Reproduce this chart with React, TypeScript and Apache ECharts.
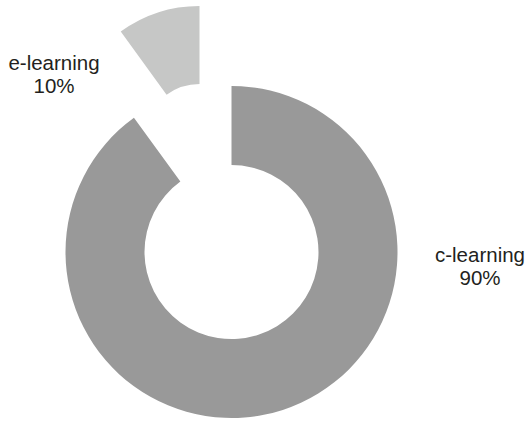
import React, { useEffect, useRef } from "react";
import * as echarts from "echarts";

const categories = ["c-learning", "e-learning"];
const values = [90, 10];
const colors = ["#999999", "#c6c7c6"];

export default function App() {
  const ref = useRef<HTMLDivElement>(null);
  useEffect(() => {
    if (!ref.current) return;
    const chart = echarts.init(ref.current, undefined, { renderer: "svg" });
    const labelStyle = {
      formatter: "{b}\n{d}%",
      fontFamily: "'Liberation Sans', Arial, sans-serif",
      fontSize: 20.5,
      lineHeight: 23,
      color: "#231f20",
      align: "center",
    };
    const makeData = (visibleIdx: number) =>
      categories.map((c, i) => ({
        name: c,
        value: values[i],
        itemStyle: { color: i === visibleIdx ? colors[i] : "rgba(0,0,0,0)", borderWidth: 0 },
        label: { show: i === visibleIdx },
      }));
    chart.setOption({
      animation: false,
      series: [
        {
          type: "pie",
          center: [231.5, 252],
          radius: [87, 166],
          startAngle: 90,
          clockwise: true,
          silent: true,
          avoidLabelOverlap: false,
          label: labelStyle,
          labelLine: { show: false },
          labelLayout: { x: 480, y: 265.5, align: "center", verticalAlign: "middle" },
          data: makeData(0),
        },
        {
          type: "pie",
          center: [199.5, 140],
          radius: [56, 134],
          startAngle: 90,
          clockwise: true,
          silent: true,
          avoidLabelOverlap: false,
          label: labelStyle,
          labelLine: { show: false },
          labelLayout: { x: 54, y: 74, align: "center", verticalAlign: "middle" },
          data: makeData(1),
        },
      ],
    });
    return () => chart.dispose();
  }, []);
  return (
    <div
      ref={ref}
      style={{ position: "fixed", left: 0, top: 0, width: 529, height: 423, background: "#fff" }}
    />
  );
}
